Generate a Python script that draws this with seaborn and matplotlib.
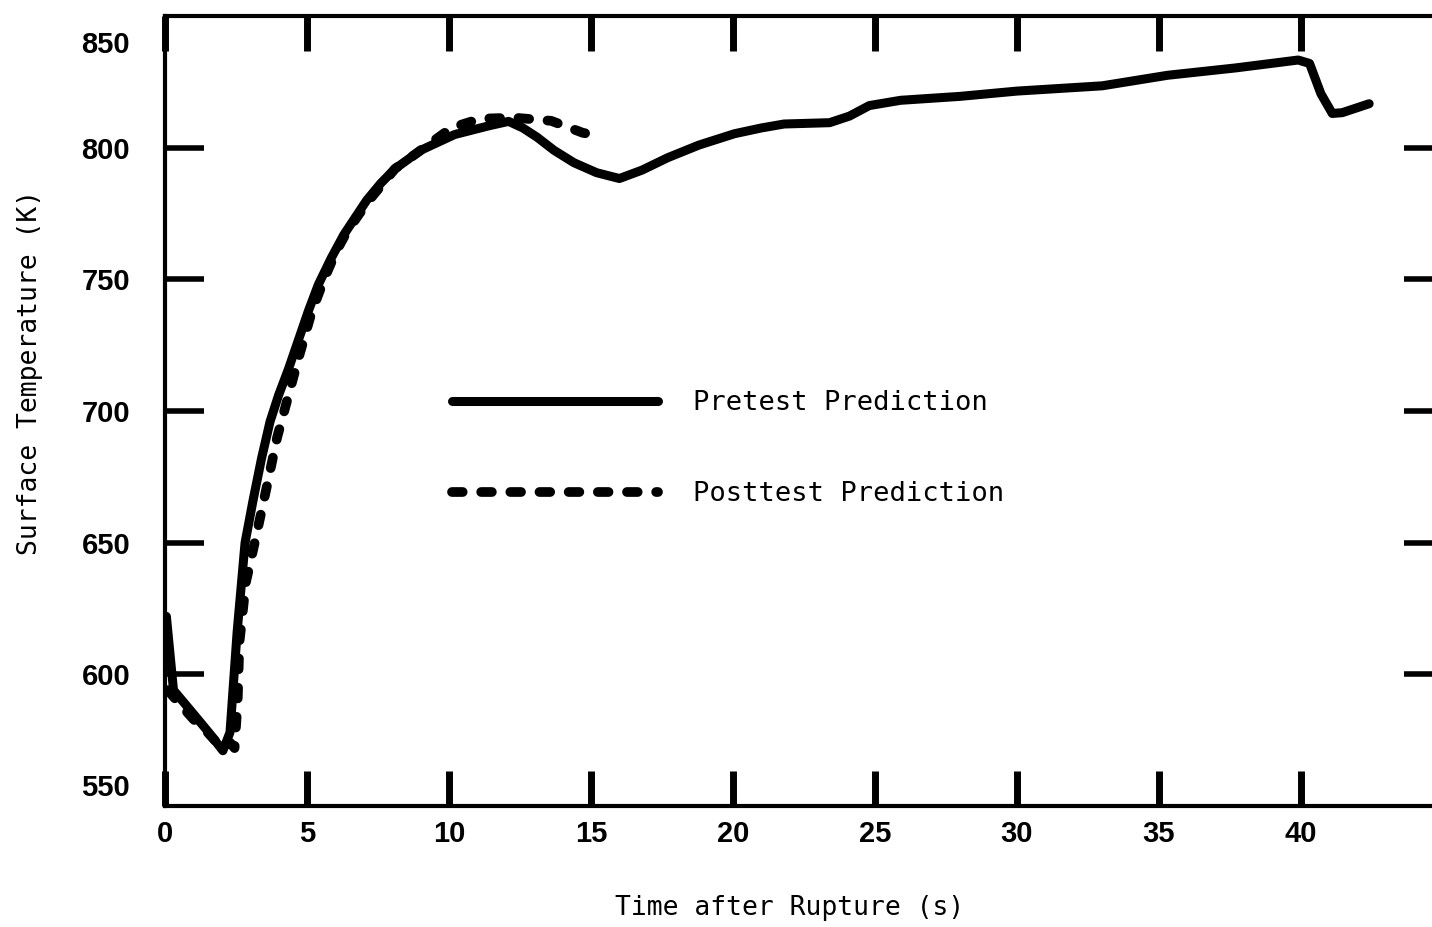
import matplotlib
matplotlib.use("Agg")
import matplotlib.pyplot as plt
import seaborn as sns

# Datos (tiempo en s, temperatura en K)
pre_t = [0.05, 0.3, 1.0, 1.5, 2.04, 2.29, 2.54, 2.82, 3.1, 3.4, 3.7, 4.0, 4.35,
         4.7, 5.05, 5.4, 5.85, 6.3, 7.1, 7.6, 8.1, 9.0, 10.2, 11.4, 12.1, 12.6,
         13.1, 13.7, 14.4, 15.2, 16.0, 16.8, 17.7, 18.8, 20.05, 21.0, 21.8,
         23.4, 24.1, 24.8, 25.9, 28.0, 30.0, 33.0, 35.3, 37.7, 39.9, 40.3,
         40.7, 41.1, 41.45, 42.4]
pre_k = [622, 594, 585, 578.5, 571, 578, 616, 650, 666, 682, 696, 706, 716,
         727, 738, 748, 758, 767, 780, 786.5, 792, 799, 805, 808.3, 810, 807.5,
         804, 799, 794.3, 790.5, 788.3, 791.5, 796.2, 801, 805.3, 807.5, 809,
         809.5, 812, 816, 818, 819.5, 821.5, 823.5, 827.5, 830.3, 833.3, 832,
         820.5, 813, 813.3, 816.7]

post_t = [0.1, 0.5, 1.0, 1.5, 2.0, 2.3, 2.45, 2.56, 2.62, 2.85, 3.2, 3.56, 3.95,
          4.3, 4.7, 5.15, 5.6, 6.0, 6.4, 6.85, 7.26, 8.1, 9.0, 10.1, 11.1, 12.3,
          13.6, 14.7, 15.0]
post_k = [594, 589, 583, 578, 572, 574, 572, 590, 612, 635, 652, 670, 690,
          704, 720, 737, 750, 760, 768, 775, 781, 792, 799, 807.6, 811, 811.4,
          810.2, 805.7, 805]

x_ticks = [0, 5, 10, 15, 20, 25, 30, 35, 40]
y_ticks = [600, 650, 700, 750, 800]
y_labels = ["550", "600", "650", "700", "750", "800", "850"]

sns.set_style("white")
plt.rcParams["font.family"] = ["Liberation Sans", "DejaVu Sans"]
plt.rcParams["text.color"] = "black"
plt.rcParams["axes.labelcolor"] = "black"
plt.rcParams["xtick.color"] = "black"
plt.rcParams["ytick.color"] = "black"

fig = plt.figure(figsize=(14.32, 9.27), dpi=100)
ax = fig.add_axes([0.1152, 0.1305, 0.8925, 0.8522])

sns.lineplot(x=pre_t, y=pre_k, ax=ax, color="black", lw=6.5, sort=False,
             errorbar=None, label="Pretest Prediction",
             solid_capstyle="round", solid_joinstyle="round")
sns.lineplot(x=post_t, y=post_k, ax=ax, color="black", lw=7, sort=False,
             errorbar=None, label="Posttest Prediction",
             linestyle=(0, (1.1, 1.9)), dash_capstyle="round")

ax.set_xlim(0, 45)
ax.set_ylim(550, 850)

# Ejes estilo informe: marcas hacia dentro en los cuatro lados
ax.set_xticks(x_ticks)
ax.set_xticklabels([str(t) for t in x_ticks], fontsize=21, fontweight="bold")
ax.tick_params(axis="x", direction="in", top=True, bottom=True,
               length=25, width=5, pad=10, color="black")

# 550 y 850 solo llevan etiqueta, desplazada hacia dentro como en el original
ax.set_yticks([558] + y_ticks + [840])
ax.set_yticklabels(y_labels, fontsize=21, fontweight="bold")
ax.tick_params(axis="y", direction="in", left=True, right=True,
               length=28, width=4, pad=25, color="black")
for tk in (ax.yaxis.get_major_ticks()[0], ax.yaxis.get_major_ticks()[-1]):
    tk.tick1line.set_visible(False)
    tk.tick2line.set_visible(False)

for sp in ax.spines.values():
    sp.set_linewidth(3)
    sp.set_color("black")

ax.set_xlabel("Time after Rupture (s)", fontsize=19, family="DejaVu Sans Mono")
ax.xaxis.label.set_va("center")
ax.xaxis.set_label_coords(0.489, -0.129)
ax.set_ylabel("Surface Temperature (K)", fontsize=19, family="DejaVu Sans Mono")
ax.yaxis.label.set_va("center")
ax.yaxis.set_label_coords(-0.1056, 0.549)

ax.legend(loc="upper left", bbox_to_anchor=(452 / 1432, 1 - 390 / 927),
          bbox_transform=fig.transFigure, frameon=False, borderpad=0,
          borderaxespad=0, handlelength=7.6, handletextpad=1.3,
          labelspacing=2.4, prop={"family": "DejaVu Sans Mono", "size": 19.5})

fig.savefig("out.png", dpi=100)
